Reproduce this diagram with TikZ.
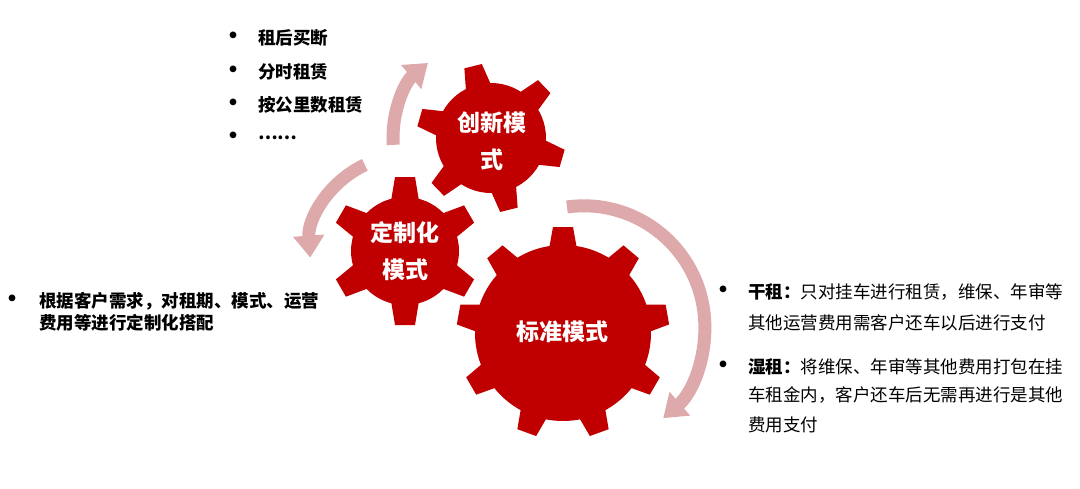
\documentclass[tikz,border=0pt]{standalone}
\usepackage{fontspec}
\setmainfont{Noto Sans CJK SC}
\usetikzlibrary{positioning,arrows.meta,calc}
\definecolor{gearred}{RGB}{192,0,0}
\definecolor{arcpink}{RGB}{221,169,171}
% gear: centre, teeth, first tooth angle, body radius, tip radius, base half width, tip half width
\newcommand{\drawgear}[7]{%
  \fill[gearred] (#1) circle[radius=#4pt];
  \foreach \k in {1,...,#2}{
    \begin{scope}[shift={(#1)}, rotate={#3+(\k-1)*360/#2}]
      \fill[gearred] (#4-4,-#6) -- (#5,-#7) -- (#5,#7) -- (#4-4,#6) -- cycle;
    \end{scope}
  }%
}
\begin{document}
\begin{tikzpicture}[
  x=1pt, y=1pt,
  cyc/.style={draw=arcpink, line width=13pt, -{Triangle[width=30pt,length=22pt]}},
  gtxt/.style={text=white, align=center, font=\bfseries\fontsize{23}{37}\selectfont},
  dot/.style={inner sep=0pt, font=\bfseries\fontsize{24}{24}\selectfont},
  item/.style={anchor=west, inner sep=0pt, font=\fontsize{17.5}{22}\selectfont},
  bitem/.style={item, font=\bfseries\fontsize{17.5}{22}\selectfont}
]
\useasboundingbox (0,0) rectangle (1080,-488);
% ---------- gear centres ----------
\coordinate (gm) at (491,-138);
\coordinate (gs) at (405,-251);
\coordinate (gl) at (563,-333);
% ---------- cycle arrows ----------
\draw[cyc] ($(gm)+(184:98)$) arc[start angle=184, end angle=130, radius=98pt];
\draw[cyc] ($(gs)+(115:95)$) arc[start angle=115, end angle=184, radius=95pt];
\draw[cyc] ($(gl)+(4,126)$) arc[start angle=98, end angle=-49, radius=121pt];
% ---------- gears ----------
\drawgear{gm}{6}{104}{55}{74}{13}{9}
\drawgear{gs}{6}{90}{54}{74}{14}{10}
\drawgear{gl}{9}{90}{88}{106}{14}{10}
\node[gtxt] (tm) at (492,-141) {创新模\\式};
\node[gtxt] (ts) at (405,-251) {定制化\\模式};
\node[gtxt] (tl) at (562,-332) {标准模式};
% ---------- innovation list ----------
\node[dot] (d1) at (233,-38) {•};
\node[bitem] (i1) at (258,-38) {租后买断};
\node[dot] (d2) at (233,-72) {•};
\node[bitem] (i2) at (258,-72) {分时租赁};
\node[dot] (d3) at (233,-105) {•};
\node[bitem] (i3) at (258,-105) {按公里数租赁};
\node[dot] (d4) at (233,-138) {•};
\node[bitem] (i4) at (258,-138) {……};
% ---------- customised ----------
\node[dot] (d5) at (13,-301) {•};
\node[bitem] (c1) at (39,-301) {根据客户需求，对租期、模式、运营};
\node[bitem] (c2) at (39,-323) {费用等进行定制化搭配};
% ---------- standard ----------
\node[dot] (d6) at (723,-292) {•};
\node[item] (s1) at (748,-292) {{\bfseries 干租：}只对挂车进行租赁，维保、年审等};
\node[item] (s2) at (748,-323) {其他运营费用需客户还车以后进行支付};
\node[dot] (d7) at (723,-367) {•};
\node[item] (s3) at (748,-367) {{\bfseries 湿租：}将维保、年审等其他费用打包在挂};
\node[item] (s4) at (748,-395) {车租金内，客户还车后无需再进行是其他};
\node[item] (s5) at (748,-425) {费用支付};
\end{tikzpicture}
\end{document}
